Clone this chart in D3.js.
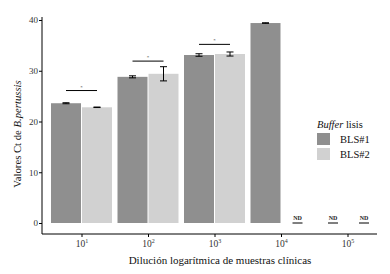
<!DOCTYPE html>
<html>
<head>
<meta charset="utf-8">
<script src="https://cdn.jsdelivr.net/npm/d3@7"></script>
<style>
  body { margin: 0; background: #fff; }
  text { font-family: "Liberation Serif", "DejaVu Serif", serif; }
</style>
</head>
<body>
<div id="chart"></div>
<script>
// data
const dilutions = ['1', '2', '3', '4', '5'];            // exponents of 10
const buffers = ['BLS#1', 'BLS#2'];
const bls1Mean = [23.6, 28.8, 33.1, 39.4, null];
const bls1Err  = [0.1, 0.2, 0.25, 0.05, null];
const bls2Mean = [22.8, 29.4, 33.3, null, null];
const bls2Err  = [0.05, 1.4, 0.4, null, null];
const sigLevel = [26.1, 31.9, 35.2, null, null];        // height of the "*" brackets
const yTicks = [0, 10, 20, 30, 40];

const width = 390, height = 274;
const colors = {'BLS#1': '#8f8f8f', 'BLS#2': '#d1d1d1'};

const svg = d3.select('#chart').append('svg')
    .attr('width', width)
    .attr('height', height);

const x = d3.scalePoint()
    .domain(dilutions)
    .range([81.5, 347.5]);

const x1 = d3.scaleBand()
    .domain(buffers)
    .range([-31, 31]);

const y = d3.scaleLinear()
    .domain([0, 40])
    .range([223, 20]);

const rows = [];
dilutions.forEach((d, i) => {
    rows.push({dil: d, buf: 'BLS#1', mean: bls1Mean[i], err: bls1Err[i]});
    rows.push({dil: d, buf: 'BLS#2', mean: bls2Mean[i], err: bls2Err[i]});
});
const present = rows.filter(r => r.mean != null);
const missing = rows.filter(r => r.mean == null);

// bars
svg.append('g').selectAll('rect')
    .data(present)
    .enter().append('rect')
    .attr('x', d => x(d.dil) + x1(d.buf) + 0.5)
    .attr('width', x1.bandwidth() - 1)
    .attr('y', d => y(d.mean))
    .attr('height', d => y(0) - y(d.mean))
    .attr('fill', d => colors[d.buf]);

// error bars
const eb = svg.append('g').attr('stroke', '#000').attr('stroke-width', 1);
present.forEach(d => {
    const cx = x(d.dil) + x1(d.buf) + x1.bandwidth() / 2;
    const y0 = y(d.mean - d.err), y1 = y(d.mean + d.err);
    eb.append('line').attr('x1', cx).attr('x2', cx).attr('y1', y0).attr('y2', y1);
    eb.append('line').attr('x1', cx - 3.5).attr('x2', cx + 3.5).attr('y1', y0).attr('y2', y0);
    eb.append('line').attr('x1', cx - 3.5).attr('x2', cx + 3.5).attr('y1', y1).attr('y2', y1);
});

// significance brackets
dilutions.forEach((d, i) => {
    if (sigLevel[i] == null) return;
    const a = x(d) + x1('BLS#1') + x1.bandwidth() / 2;
    const b = x(d) + x1('BLS#2') + x1.bandwidth() / 2;
    svg.append('line')
        .attr('x1', a).attr('x2', b)
        .attr('y1', y(sigLevel[i])).attr('y2', y(sigLevel[i]))
        .attr('stroke', '#000').attr('stroke-width', 1);
    svg.append('text')
        .attr('x', (a + b) / 2).attr('y', y(sigLevel[i]) - 2)
        .attr('text-anchor', 'middle')
        .attr('font-size', 5)
        .attr('fill', '#444')
        .text('*');
});

// ND markers
missing.forEach(d => {
    const cx = x(d.dil) + x1(d.buf) + x1.bandwidth() / 2 + 1;
    svg.append('line')
        .attr('x1', cx - 5).attr('x2', cx + 5)
        .attr('y1', y(0)).attr('y2', y(0))
        .attr('stroke', '#000').attr('stroke-width', 1);
    svg.append('text')
        .attr('x', cx).attr('y', y(0) - 3)
        .attr('text-anchor', 'middle')
        .attr('font-size', 6)
        .attr('font-weight', 'bold')
        .attr('fill', '#222')
        .text('ND');
});

// y axis
const yAxis = svg.append('g')
    .attr('transform', 'translate(42,0)')
    .call(d3.axisLeft(y).tickValues(yTicks).tickSize(3).tickPadding(1));
yAxis.select('.domain').attr('d', 'M0,' + 17 + 'V234');
yAxis.selectAll('text').attr('font-size', 9).attr('fill', '#333')
    .attr('font-family', '"Liberation Serif", serif');

// x axis
const xAxis = svg.append('g')
    .attr('transform', 'translate(0,234)')
    .call(d3.axisBottom(x).tickSize(3).tickPadding(2).tickFormat(''));
xAxis.select('.domain').attr('d', 'M42,0H377');
xAxis.selectAll('.tick').append('text')
    .attr('y', 13)
    .attr('text-anchor', 'middle')
    .attr('fill', '#333')
    .attr('font-size', 9.5)
    .each(function(d) {
        const t = d3.select(this);
        t.append('tspan').text('10');
        t.append('tspan').attr('dy', -4).attr('font-size', 6).text(d);
    });

// axis titles
svg.append('text')
    .attr('x', 220).attr('y', 264)
    .attr('text-anchor', 'middle')
    .attr('font-size', 11)
    .attr('fill', '#111')
    .text('Dilución logarítmica de muestras clínicas');

const yt = svg.append('text')
    .attr('transform', 'translate(21,134) rotate(-90)')
    .attr('text-anchor', 'middle')
    .attr('font-size', 10.7)
    .attr('fill', '#111');
yt.append('tspan').text('Valores Ct de ');
yt.append('tspan').attr('font-style', 'italic').text('B.pertussis');

// legend
const lg = svg.append('g').attr('transform', 'translate(317,0)');
const lt = lg.append('text').attr('x', 0).attr('y', 128).attr('font-size', 10.5).attr('fill', '#111');
lt.append('tspan').attr('font-style', 'italic').text('Buffer');
lt.append('tspan').text(' lisis');
buffers.forEach((b, i) => {
    lg.append('rect')
        .attr('x', 0).attr('y', 133 + i * 15)
        .attr('width', 13).attr('height', 12)
        .attr('fill', colors[b]);
    lg.append('text')
        .attr('x', 23).attr('y', 142.5 + i * 15)
        .attr('font-size', 10.5).attr('fill', '#111')
        .text(b);
});
</script>
</body>
</html>
